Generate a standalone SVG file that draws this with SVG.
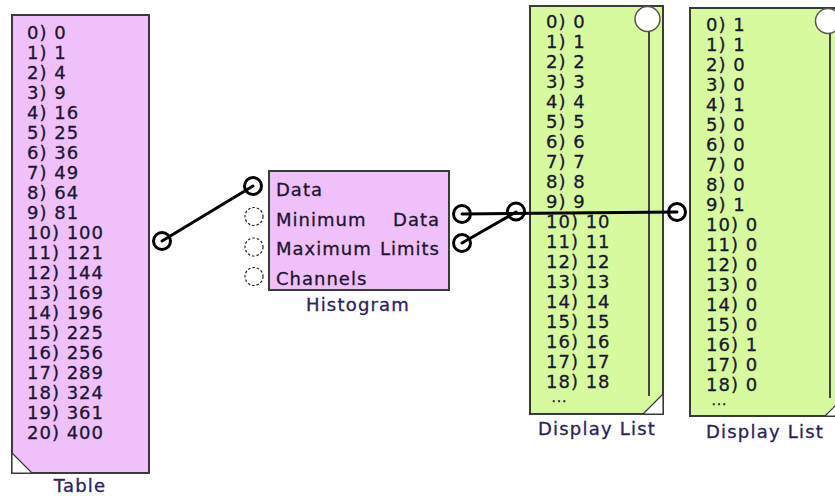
<svg xmlns="http://www.w3.org/2000/svg" width="835" height="500" viewBox="0 0 835 500">
<style>
.bg{fill:#ffffff}
.pink{fill:#f0c0fa;stroke:#3a3a3a;stroke-width:2}
.green{fill:#d8fa9f;stroke:#3a3a3a;stroke-width:2}
.corner{fill:#ffffff;stroke:#3a3a3a;stroke-width:1.2}
.t{font-family:"DejaVu Sans",Verdana,sans-serif;font-size:18px;letter-spacing:1px;fill:#1a1630;stroke:#1a1630;stroke-width:0.3}
.dots{font-family:"DejaVu Sans",Verdana,sans-serif;font-size:11px;letter-spacing:1.8px;fill:#1a1630;stroke:#1a1630;stroke-width:0.6}
.lbl{font-family:"DejaVu Sans",Verdana,sans-serif;font-size:18px;letter-spacing:1.2px;fill:#2c2258;stroke:#2c2258;stroke-width:0.3;text-anchor:middle}
.port{fill:#ffffff;stroke:#000000;stroke-width:3}
.open{fill:#ffffff;stroke:#222222;stroke-width:1.2;stroke-dasharray:2.5 2}
.wire{fill:none;stroke:#000000;stroke-width:3;stroke-linecap:round}
.knob{fill:#ffffff;stroke:#555555;stroke-width:1.5}
.scroll{stroke:#333333;stroke-width:1.8}
</style>
<rect class="bg" x="0" y="0" width="835" height="500"/>

<g id="table">
<rect class="pink" x="12" y="15" width="137" height="458"/>
<path class="corner" d="M12,453 L32,473 L12,473 Z"/>
<text class="t" x="27" y="38.5">0) 0</text>
<text class="t" x="27" y="58.5">1) 1</text>
<text class="t" x="27" y="78.5">2) 4</text>
<text class="t" x="27" y="98.5">3) 9</text>
<text class="t" x="27" y="118.5">4) 16</text>
<text class="t" x="27" y="138.5">5) 25</text>
<text class="t" x="27" y="158.5">6) 36</text>
<text class="t" x="27" y="178.5">7) 49</text>
<text class="t" x="27" y="198.5">8) 64</text>
<text class="t" x="27" y="218.5">9) 81</text>
<text class="t" x="27" y="238.5">10) 100</text>
<text class="t" x="27" y="258.5">11) 121</text>
<text class="t" x="27" y="278.5">12) 144</text>
<text class="t" x="27" y="298.5">13) 169</text>
<text class="t" x="27" y="318.5">14) 196</text>
<text class="t" x="27" y="338.5">15) 225</text>
<text class="t" x="27" y="358.5">16) 256</text>
<text class="t" x="27" y="378.5">17) 289</text>
<text class="t" x="27" y="398.5">18) 324</text>
<text class="t" x="27" y="418.5">19) 361</text>
<text class="t" x="27" y="438.5">20) 400</text>
<text class="lbl" x="80" y="492">Table</text>
<circle class="port" cx="162" cy="241" r="8.5"/>
</g>

<g id="histogram">
<rect class="pink" x="269" y="171" width="180" height="119"/>
<circle class="port" cx="253" cy="186" r="8.5"/>
<circle class="open" cx="254" cy="216.5" r="9"/>
<circle class="open" cx="254" cy="247" r="9"/>
<circle class="open" cx="254" cy="276.5" r="9"/>
<circle class="port" cx="462" cy="214" r="8.5"/>
<circle class="port" cx="462" cy="243" r="8.5"/>
<text class="t" x="276" y="195.5">Data</text>
<text class="t" x="276" y="225.5">Minimum</text>
<text class="t" x="276" y="254.5">Maximum</text>
<text class="t" x="276" y="284.5">Channels</text>
<text class="t" x="440" y="225.5" text-anchor="end">Data</text>
<text class="t" x="440" y="254.5" text-anchor="end">Limits</text>
<text class="lbl" x="358" y="311">Histogram</text>
</g>

<g id="displaylist1">
<rect class="green" x="530" y="6" width="133" height="408"/>
<line class="scroll" x1="649" y1="31" x2="649" y2="396"/>
<circle class="knob" cx="647.5" cy="19" r="12.5"/>
<path class="corner" d="M663,394 L663,414 L643,414 Z"/>
<text class="t" x="546" y="28">0) 0</text>
<text class="t" x="546" y="48">1) 1</text>
<text class="t" x="546" y="68">2) 2</text>
<text class="t" x="546" y="88">3) 3</text>
<text class="t" x="546" y="108">4) 4</text>
<text class="t" x="546" y="128">5) 5</text>
<text class="t" x="546" y="148">6) 6</text>
<text class="t" x="546" y="168">7) 7</text>
<text class="t" x="546" y="188">8) 8</text>
<text class="t" x="546" y="208">9) 9</text>
<text class="t" x="546" y="228">10) 10</text>
<text class="t" x="546" y="248">11) 11</text>
<text class="t" x="546" y="268">12) 12</text>
<text class="t" x="546" y="288">13) 13</text>
<text class="t" x="546" y="308">14) 14</text>
<text class="t" x="546" y="328">15) 15</text>
<text class="t" x="546" y="348">16) 16</text>
<text class="t" x="546" y="368">17) 17</text>
<text class="t" x="546" y="388">18) 18</text>
<text class="dots" x="552" y="402">...</text>
<text class="lbl" x="597" y="435">Display List</text>
<circle class="port" cx="516" cy="211.5" r="8.5"/>
</g>

<g id="displaylist2">
<rect class="green" x="690" y="8" width="155" height="408"/>
<line class="scroll" x1="830" y1="33" x2="830" y2="398"/>
<circle class="knob" cx="828" cy="21" r="12.5"/>
<path class="corner" d="M845,396 L845,416 L825,416 Z"/>
<text class="t" x="706" y="31">0) 1</text>
<text class="t" x="706" y="51">1) 1</text>
<text class="t" x="706" y="71">2) 0</text>
<text class="t" x="706" y="91">3) 0</text>
<text class="t" x="706" y="111">4) 1</text>
<text class="t" x="706" y="131">5) 0</text>
<text class="t" x="706" y="151">6) 0</text>
<text class="t" x="706" y="171">7) 0</text>
<text class="t" x="706" y="191">8) 0</text>
<text class="t" x="706" y="211">9) 1</text>
<text class="t" x="706" y="231">10) 0</text>
<text class="t" x="706" y="251">11) 0</text>
<text class="t" x="706" y="271">12) 0</text>
<text class="t" x="706" y="291">13) 0</text>
<text class="t" x="706" y="311">14) 0</text>
<text class="t" x="706" y="331">15) 0</text>
<text class="t" x="706" y="351">16) 1</text>
<text class="t" x="706" y="371">17) 0</text>
<text class="t" x="706" y="391">18) 0</text>
<text class="dots" x="712" y="405">...</text>
<text class="lbl" x="765" y="438">Display List</text>
<circle class="port" cx="677" cy="212" r="8.5"/>
</g>

<g id="connectors">
<path class="wire" d="M162,241 L253,186"/>
<path class="wire" d="M462,214 L677,212"/>
<path class="wire" d="M462,243 L516,212"/>
</g>
</svg>
